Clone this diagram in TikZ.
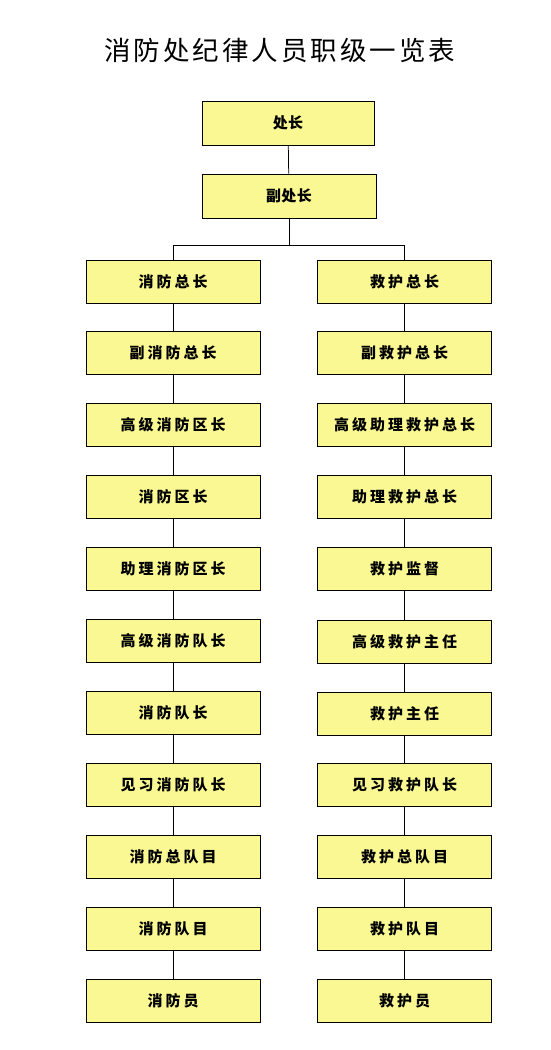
\documentclass[tikz,border=0pt]{standalone}
\usepackage{fontspec}
\newfontfamily\cjk{Noto Sans CJK SC}
\definecolor{boxfill}{HTML}{FAF893}
\makeatletter
\newcommand\spacedtext[2]{\def\sp@first{1}\@tfor\sp@c:=#2\do{\ifnum\sp@first=0 \hspace{#1}\fi\def\sp@first{0}\sp@c}}
\makeatother
\tikzset{
  rank/.style={draw=black, line width=0.9pt, fill=boxfill, minimum width=174pt, minimum height=43pt, inner sep=0pt, font=\cjk\bfseries\fontsize{15}{16}\selectfont},
  link/.style={draw=black, line width=0.75pt},
}
\begin{document}
\begin{tikzpicture}[x=1pt,y=-1pt]
\useasboundingbox (0,0) rectangle (550,1050);
\node[font=\cjk\fontsize{26.5}{28}\selectfont] (title) at (280,50) {\spacedtext{3pt}{消防处纪律人员职级一览表}};
\node[rank, minimum width=172pt, minimum height=44pt] (chief) at (288,123) {\spacedtext{0.5pt}{处长}};
\node[rank, minimum height=44pt] (dchief) at (289,196) {\spacedtext{0.5pt}{副处长}};
% left column
\node[rank] (L1) at (173,282) {\spacedtext{3pt}{消防总长}};
\node[rank] (L2) at (173,352.5) {\spacedtext{3pt}{副消防总长}};
\node[rank] (L3) at (173,424.5) {\spacedtext{3pt}{高级消防区长}};
\node[rank] (L4) at (173,496.5) {\spacedtext{3pt}{消防区长}};
\node[rank] (L5) at (173,568.5) {\spacedtext{3pt}{助理消防区长}};
\node[rank] (L6) at (173,640.5) {\spacedtext{3pt}{高级消防队长}};
\node[rank] (L7) at (173,712.5) {\spacedtext{3pt}{消防队长}};
\node[rank] (L8) at (173,784.5) {\spacedtext{3pt}{见习消防队长}};
\node[rank] (L9) at (173,856.5) {\spacedtext{3pt}{消防总队目}};
\node[rank] (L10) at (173,928.5) {\spacedtext{3pt}{消防队目}};
\node[rank] (L11) at (173,1000.5) {\spacedtext{3pt}{消防员}};
% right column
\node[rank] (R1) at (404.5,282) {\spacedtext{3pt}{救护总长}};
\node[rank] (R2) at (404.5,352.5) {\spacedtext{3pt}{副救护总长}};
\node[rank] (R3) at (404.5,425) {\spacedtext{3pt}{高级助理救护总长}};
\node[rank] (R4) at (404.5,497) {\spacedtext{3pt}{助理救护总长}};
\node[rank] (R5) at (404.5,568.5) {\spacedtext{3pt}{救护监督}};
\node[rank] (R6) at (404.5,641.5) {\spacedtext{3pt}{高级救护主任}};
\node[rank] (R7) at (404.5,713.5) {\spacedtext{3pt}{救护主任}};
\node[rank] (R8) at (404.5,784.5) {\spacedtext{3pt}{见习救护队长}};
\node[rank] (R9) at (404.5,857) {\spacedtext{3pt}{救护总队目}};
\node[rank] (R10) at (404.5,928.5) {\spacedtext{3pt}{救护队目}};
\node[rank] (R11) at (404.5,1000.5) {\spacedtext{3pt}{救护员}};
% connectors
\coordinate (fork) at (289,245);
\draw[link] (chief) -- (dchief);
\draw[link] (dchief) -- (fork);
\draw[link] (fork) -| (L1.north);
\draw[link] (fork) -| (R1.north);
\foreach \a/\b in {1/2,2/3,3/4,4/5,5/6,6/7,7/8,8/9,9/10,10/11}{
  \draw[link] (L\a) -- (L\b);
  \draw[link] (R\a) -- (R\b);
}
\end{tikzpicture}
\end{document}
